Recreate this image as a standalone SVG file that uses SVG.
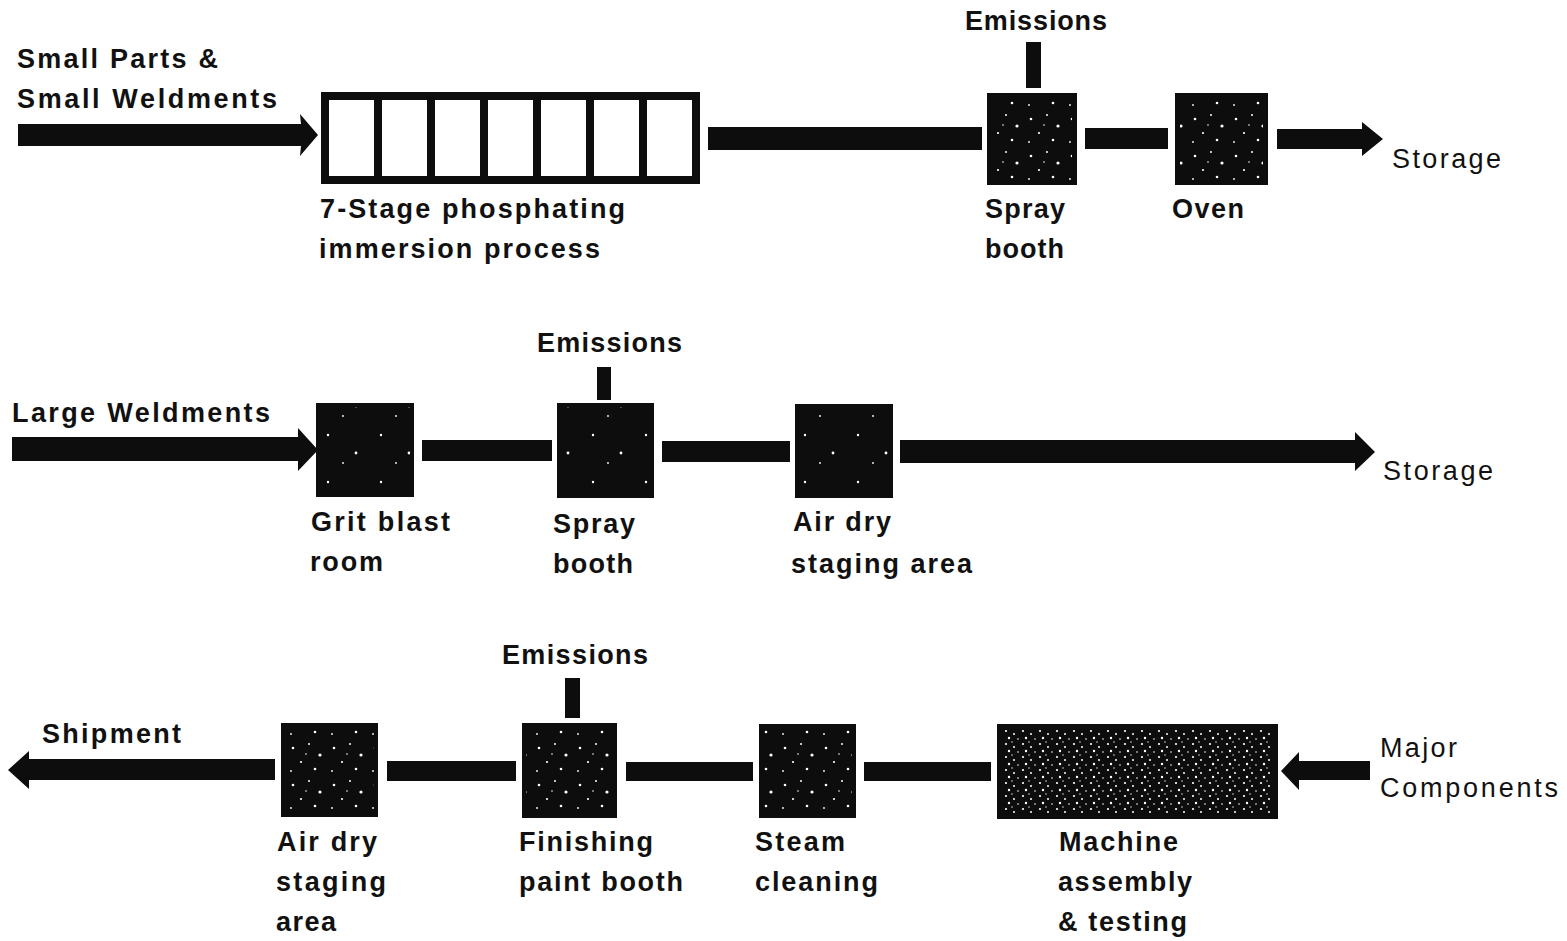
<svg xmlns="http://www.w3.org/2000/svg" width="1567" height="941" viewBox="0 0 1567 941">
<defs>
<style>
text{font-family:"Liberation Sans",Arial,sans-serif;font-size:27px;font-weight:bold;fill:#111}
text.lt{font-weight:normal}
.blk{fill:#0d0d0d}
.spk{fill:url(#speck)}
.spk2{fill:url(#speck2)}
.spk3{fill:url(#speck3)}
</style>
<pattern id="speck" width="41" height="37" patternUnits="userSpaceOnUse">
<circle cx="6" cy="8" r="1.3" fill="#fff"/><circle cx="22" cy="4" r="1" fill="#fff"/><circle cx="33" cy="15" r="1.6" fill="#fff"/><circle cx="14" cy="22" r="1.1" fill="#fff"/><circle cx="28" cy="29" r="1.3" fill="#fff"/><circle cx="4" cy="31" r="0.9" fill="#fff"/><circle cx="19" cy="14" r="0.8" fill="#fff"/>
</pattern>
<pattern id="speck2" width="53" height="47" patternUnits="userSpaceOnUse">
<circle cx="10" cy="12" r="1.2" fill="#fff"/><circle cx="38" cy="30" r="1.4" fill="#fff"/><circle cx="25" cy="40" r="0.9" fill="#fff"/>
</pattern>
<pattern id="speck3" width="17" height="13" patternUnits="userSpaceOnUse">
<circle cx="3" cy="3" r="1.1" fill="#fff"/><circle cx="11" cy="6" r="1" fill="#fff"/><circle cx="6" cy="10" r="1.2" fill="#fff"/><circle cx="15" cy="11" r="0.8" fill="#fff"/><circle cx="9" cy="1" r="0.7" fill="#fff"/>
</pattern>
</defs>
<rect width="1567" height="941" fill="#fff"/>

<g id="connectors">
<!-- row 1 -->
<polygon class="blk" points="18,124 301,124 300,114 318,135 300,156 301,146 18,146"/>
<rect class="blk" x="708" y="127" width="274" height="23"/>
<rect class="blk" x="1085" y="128" width="83" height="21"/>
<polygon class="blk" points="1277,129 1362,129 1362,122 1383,139 1362,156 1362,149 1277,149"/>
<!-- row 2 -->
<polygon class="blk" points="12,437 298,437 298,428 318,450 298,471 298,461 12,461"/>
<rect class="blk" x="422" y="440" width="130" height="21"/>
<rect class="blk" x="662" y="441" width="128" height="21"/>
<polygon class="blk" points="900,440 1355,440 1355,432 1375,452 1355,471 1355,463 900,463"/>
<!-- row 3 -->
<polygon class="blk" points="275,759 29,759 29,751 8,770 29,789 29,780 275,780"/>
<rect class="blk" x="387" y="761" width="129" height="20"/>
<rect class="blk" x="626" y="762" width="127" height="19"/>
<rect class="blk" x="864" y="762" width="127" height="19"/>
<polygon class="blk" points="1370,761 1299,761 1299,752 1281,771 1299,790 1299,780 1370,780"/>
<!-- emission stacks -->
<rect class="blk" x="1026" y="42" width="15" height="46"/>
<rect class="blk" x="597" y="367" width="14" height="33"/>
<rect class="blk" x="565" y="678" width="15" height="40"/>
</g>

<g id="inputs">
<text x="17" y="68" textLength="201" lengthAdjust="spacing">Small Parts &amp;</text>
<text x="17" y="108" textLength="260" lengthAdjust="spacing">Small Weldments</text>
<text x="12" y="422" textLength="258" lengthAdjust="spacing">Large Weldments</text>
<text class="lt" x="1380" y="757" textLength="77" lengthAdjust="spacing">Major</text>
<text class="lt" x="1380" y="797" textLength="178" lengthAdjust="spacing">Components</text>
</g>

<g id="outputs">
<text class="lt" x="1392" y="168" textLength="109" lengthAdjust="spacing">Storage</text>
<text class="lt" x="1383" y="480" textLength="110" lengthAdjust="spacing">Storage</text>
<text x="42" y="743" textLength="139" lengthAdjust="spacing">Shipment</text>
</g>

<g id="emissions">
<text x="965" y="30" textLength="142" lengthAdjust="spacing">Emissions</text>
<text x="537" y="352" textLength="145" lengthAdjust="spacing">Emissions</text>
<text x="502" y="664" textLength="146" lengthAdjust="spacing">Emissions</text>
</g>

<g id="phosphating">
<rect class="blk" x="321" y="92" width="379" height="92"/>
<rect x="329" y="100" width="45" height="76" fill="#fff"/>
<rect x="382" y="100" width="45" height="76" fill="#fff"/>
<rect x="435" y="100" width="45" height="76" fill="#fff"/>
<rect x="488" y="100" width="45" height="76" fill="#fff"/>
<rect x="541" y="100" width="45" height="76" fill="#fff"/>
<rect x="594" y="100" width="45" height="76" fill="#fff"/>
<rect x="647" y="100" width="45" height="76" fill="#fff"/>
<text x="320" y="218" textLength="305" lengthAdjust="spacing">7-Stage phosphating</text>
<text x="319" y="258" textLength="281" lengthAdjust="spacing">immersion process</text>
</g>

<g id="spray1">
<rect class="blk" x="987" y="93" width="90" height="92"/>
<rect class="spk" x="992" y="98" width="80" height="82"/>
<text x="985" y="218" textLength="80" lengthAdjust="spacing">Spray</text>
<text x="985" y="258" textLength="79" lengthAdjust="spacing">booth</text>
</g>

<g id="oven">
<rect class="blk" x="1175" y="93" width="93" height="92"/>
<rect class="spk" x="1180" y="98" width="83" height="82"/>
<text x="1172" y="218" textLength="72" lengthAdjust="spacing">Oven</text>
</g>

<g id="gritblast">
<rect class="blk" x="316" y="403" width="98" height="94"/>
<rect class="spk2" x="320" y="407" width="90" height="86"/>
<text x="311" y="531" textLength="139" lengthAdjust="spacing">Grit blast</text>
<text x="310" y="571" textLength="73" lengthAdjust="spacing">room</text>
</g>

<g id="spray2">
<rect class="blk" x="557" y="403" width="97" height="95"/>
<rect class="spk2" x="561" y="407" width="89" height="87"/>
<text x="553" y="533" textLength="82" lengthAdjust="spacing">Spray</text>
<text x="553" y="573" textLength="80" lengthAdjust="spacing">booth</text>
</g>

<g id="airdry2">
<rect class="blk" x="795" y="404" width="98" height="94"/>
<rect class="spk2" x="799" y="408" width="90" height="86"/>
<text x="793" y="531" textLength="98" lengthAdjust="spacing">Air dry</text>
<text x="791" y="573" textLength="181" lengthAdjust="spacing">staging area</text>
</g>

<g id="airdry3">
<rect class="blk" x="281" y="723" width="97" height="94"/>
<rect class="spk" x="285" y="727" width="89" height="86"/>
<text x="277" y="851" textLength="100" lengthAdjust="spacing">Air dry</text>
<text x="276" y="891" textLength="110" lengthAdjust="spacing">staging</text>
<text x="276" y="931" textLength="60" lengthAdjust="spacing">area</text>
</g>

<g id="finishing">
<rect class="blk" x="522" y="723" width="95" height="95"/>
<rect class="spk" x="526" y="727" width="87" height="87"/>
<text x="519" y="851" textLength="134" lengthAdjust="spacing">Finishing</text>
<text x="519" y="891" textLength="164" lengthAdjust="spacing">paint booth</text>
</g>

<g id="steam">
<rect class="blk" x="759" y="724" width="97" height="94"/>
<rect class="spk" x="763" y="728" width="89" height="86"/>
<text x="755" y="851" textLength="90" lengthAdjust="spacing">Steam</text>
<text x="755" y="891" textLength="123" lengthAdjust="spacing">cleaning</text>
</g>

<g id="machine">
<rect class="blk" x="997" y="724" width="281" height="95"/>
<rect class="spk3" x="1003" y="730" width="269" height="83"/>
<text x="1059" y="851" textLength="119" lengthAdjust="spacing">Machine</text>
<text x="1058" y="891" textLength="134" lengthAdjust="spacing">assembly</text>
<text x="1058" y="931" textLength="129" lengthAdjust="spacing">&amp; testing</text>
</g>
</svg>
